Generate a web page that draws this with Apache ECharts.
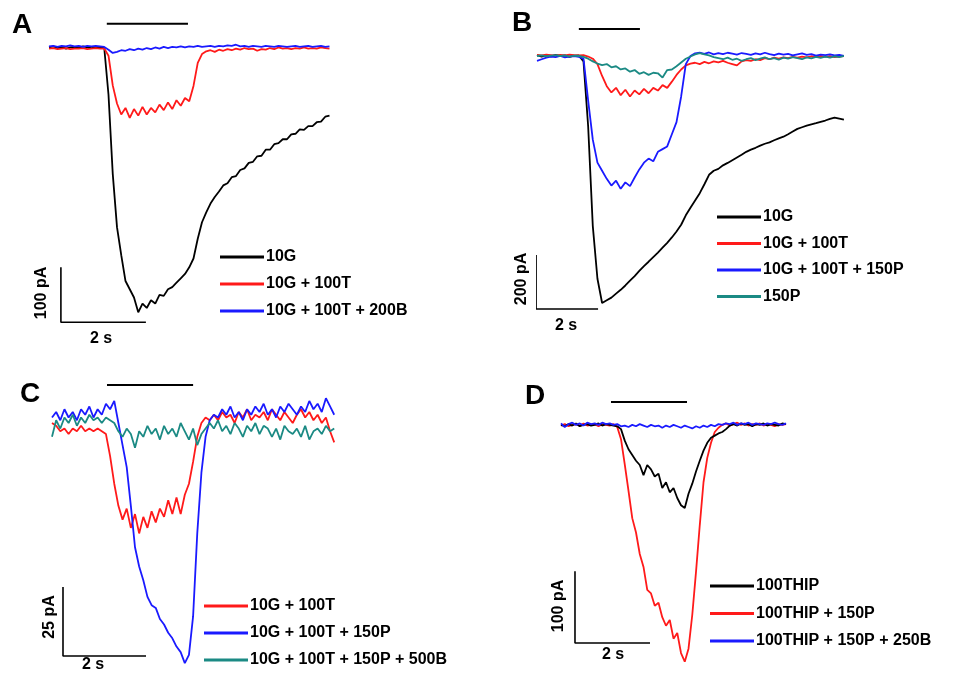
<!DOCTYPE html>
<html>
<head>
<meta charset="utf-8">
<script src="https://cdn.jsdelivr.net/npm/echarts@6/dist/echarts.min.js"></script>
<style>
  html, body { margin: 0; background: #fff; }
  #main { width: 973px; height: 679px; }
</style>
</head>
<body>
<div id="main"></div>
<script>
// sampling step (s) of the traces in each panel
var dtA = 0.1, dtB = 0.15, dtC = 0.1, dtD = 0.1;

// panel A (pA)
var a10G = [0,2,-1,1,-2,0,1,-1,2,0,-1,1,0,-1,
  -86,-230,-327,-378,-425,-440,-455,-482,-466,-474,-460,-466,-450,-452,-440,-436,
  -428,-420,-412,-400,-384,-348,-318,-300,-284,-272,-262,-251,-247,-236,-234,-223,
  -220,-210,-208,-198,-197,-186,-186,-176,-174,-167,-167,-158,-157,-149,-150,-143,
  -143,-136,-135,-126,-124];
var a10G100T = [-2,-1,-3,-2,-1,-3,-2,-2,-1,-3,-2,-1,-2,-2,
  -15,-69,-102,-122,-110,-128,-112,-124,-108,-122,-110,-118,-104,-114,-100,-112,
  -96,-106,-92,-98,-70,-28,-12,-7,-5,-8,-4,-6,-3,-5,-2,-4,-1,-3,-2,-6,-3,-4,-1,-3,
  0,-2,-1,-3,-1,-2,0,-2,-1,-2,0,-1,-2];
var a10G100T200B = [2,3,1,3,2,4,2,3,1,3,2,3,2,1,
  -4,-10,-8,-5,-6,-3,-5,-2,-4,-1,-3,0,-2,1,-1,1,0,2,0,2,1,3,1,2,3,1,3,2,4,3,
  5,2,3,1,3,2,1,3,2,1,3,2,1,2,3,1,2,3,1,2,3,1,2];

// panel B (pA)
var b10G = [3,-2,2,-1,4,0,2,-3,1,2,
  -20,-260,-630,-825,-915,-905,-895,-880,-866,-850,-832,-815,-796,-778,-762,-745,
  -728,-710,-692,-672,-650,-625,-590,-562,-535,-508,-475,-440,-425,-418,-405,-396,
  -386,-376,-366,-355,-347,-340,-332,-325,-320,-312,-305,-299,-290,-280,-270,-264,
  -258,-253,-249,-244,-239,-233,-228,-232,-236];
var b10G100T = [4,2,5,3,1,4,2,5,3,2,
  3,-2,-10,-30,-74,-112,-135,-118,-145,-125,-150,-128,-142,-122,-138,-118,-128,
  -108,-118,-95,-70,-50,-35,-28,-25,-30,-22,-27,-20,-24,-18,-25,-30,-35,-20,-15,
  -18,-12,-15,-8,-12,-6,-10,-5,-8,-3,-6,-2,-5,-1,-4,0,-3,-1,-4,-2,0];
var b10G100T150P = [-18,-12,-6,-2,-4,0,-5,-2,0,-3,
  -10,-165,-310,-395,-425,-455,-480,-462,-492,-468,-482,-450,-420,-395,-380,-390,
  -355,-345,-335,-290,-245,-150,-30,0,10,12,
  8,13,6,11,7,12,9,5,11,8,4,10,6,12,7,3,9,5,8,2,6,10,4,7,1,5,3,6,2,4,0];
var b150P = [0,2,-1,1,3,0,2,-2,1,0,
  -3,-10,-20,-28,-34,-30,-42,-38,-50,-46,-58,-52,-66,-60,-70,-62,-64,-80,-52,-50,
  -38,-24,-10,-2,6,11,
  6,2,-4,-8,-12,-6,-14,-10,-18,-12,-8,-15,-10,-5,-12,-8,-14,-6,-10,-4,-8,-12,-5,
  -9,-3,-7,-2,-6,-1,-4,0];

// panel C (pA)
var c10G100T = [0,-1,-3,-2,-4,-2,-3,-1,-3,-2,-3,-2,-3,-4,
  -12,-22,-30,-35,-31,-38,-33,-40,-34,-38,-32,-36,-31,-34,-28,-33,-27,-33,-26,-22,
  -14,-5,0,2,1,3,
  1,4,2,3,0,4,2,5,1,3,2,4,1,5,3,1,4,2,0,3,5,2,4,1,3,0,2,-3,-7];
var c10G100T150P = [2,4,1,5,2,4,1,5,3,6,2,5,3,7,5,8,
  0,-8,-16,-30,-45,-52,-57,-63,-66,-67,-71,-73,-76,-78,-81,-83,-87,-84,-70,-40,
  -18,-5,1,3,
  2,5,3,6,2,4,1,5,3,6,4,7,3,5,2,6,4,7,5,3,6,4,8,5,7,4,9,6,3];
var c500B = [-5,1,-2,2,0,3,-1,2,0,3,1,2,0,2,1,0,-3,-5,-2,-4,-9,-3,-5,-1,-4,-2,-6,
  -1,-4,-2,-5,0,-3,-6,-2,-8,-4,-2,0,-2,
  1,-3,-1,-4,0,-2,-5,-1,-3,0,-4,-1,-2,-5,-2,-6,-1,-3,-4,-2,-5,-1,-6,-3,-2,-4,-1,-3,-2];

// panel D (pA)
var d100THIP = [0,-2,1,-1,2,-2,0,1,-1,0,2,-1,1,0,-1,
  -2,-6,-22,-34,-42,-50,-56,-70,-56,-62,-72,-68,-88,-80,-94,-88,-102,-112,-116,
  -96,-82,-65,-50,-36,-25,-18,-15,-12,-10,-6,-1,
  1,-1,2,0,1,-2,1,0,2,-1,1,0,-1,2,1];
var d150P = [-1,1,-2,0,1,-1,2,-1,0,1,-2,1,0,-1,1,
  -3,-20,-55,-92,-130,-150,-180,-198,-230,-235,-252,-248,-268,-280,-272,-298,-290,
  -318,-330,-312,-265,-205,-140,-80,-46,-25,-10,-4,
  0,2,-1,1,3,0,2,-1,1,0,2,-1,1,0,-2,1,0,1];
var d250B = [2,-3,1,3,0,2,-1,3,1,2,0,3,1,2,0,1,-2,-1,-3,0,-2,1,-1,-3,0,-2,-1,-4,-1,
  -3,0,-2,-4,-1,-3,-5,-2,-4,-1,-3,0,-2,1,0,2,1,3,0,2,1,3,0,2,1,0,2,1,3,1,0,2];

// stimulus bars [start s, end s, level pA] and scale bars [t0, v0, 2 s, amplitude]
var stimA = [1.36, 3.27, 43],  scaleA = [0.28, -500, 2, 100];
var stimB = [1.35, 3.32, 100], scaleB = [-0.03, -937, 2, 200];
var stimC = [1.325, 3.40, 13.8], scaleC = [0.265, -84.4, 2, 25];
var stimD = [1.333, 3.36, 32], scaleD = [0.373, -304, 2, 100];

var BLACK = '#000000', RED = '#ff1a1a', BLUE = '#1a1aff', TEAL = '#1b8a84';
var FONT = 'Liberation Sans';

function trace(vals, dt) {
    return vals.map(function (v, i) { return [+(i * dt).toFixed(3), v]; });
}

var series = [];
function addTrace(p, name, vals, dt, color) {
    series.push({
        name: p + '|' + name, type: 'line', xAxisIndex: p, yAxisIndex: p,
        data: trace(vals, dt), showSymbol: false, symbol: 'none',
        lineStyle: { color: color, width: 1.8 }, itemStyle: { color: color },
        silent: true, animation: false
    });
}
function addBars(p, stim, sc) {
    series.push({
        type: 'line', xAxisIndex: p, yAxisIndex: p, silent: true, animation: false,
        data: [[stim[0], stim[2]], [stim[1], stim[2]]], symbol: 'none', clip: false,
        lineStyle: { color: '#000', width: 2 }
    });
    series.push({
        type: 'line', xAxisIndex: p, yAxisIndex: p, silent: true, animation: false,
        data: [[sc[0], sc[1] + sc[3]], [sc[0], sc[1]], [sc[0] + sc[2], sc[1]]],
        symbol: 'none', clip: false,
        lineStyle: { color: '#000', width: 1.6 }
    });
}

// draw order: later series on top
addTrace(0, '10G', a10G, dtA, BLACK);
addTrace(0, '10G + 100T', a10G100T, dtA, RED);
addTrace(0, '10G + 100T + 200B', a10G100T200B, dtA, BLUE);
addTrace(1, '10G', b10G, dtB, BLACK);
addTrace(1, '10G + 100T', b10G100T, dtB, RED);
addTrace(1, '10G + 100T + 150P', b10G100T150P, dtB, BLUE);
addTrace(1, '150P', b150P, dtB, TEAL);
addTrace(2, '10G + 100T', c10G100T, dtC, RED);
addTrace(2, '10G + 100T + 150P', c10G100T150P, dtC, BLUE);
addTrace(2, '10G + 100T + 150P + 500B', c500B, dtC, TEAL);
addTrace(3, '100THIP + 150P', d150P, dtD, RED);
addTrace(3, '100THIP', d100THIP, dtD, BLACK);
addTrace(3, '100THIP + 150P + 250B', d250B, dtD, BLUE);
addBars(0, stimA, scaleA);
addBars(1, stimB, scaleB);
addBars(2, stimC, scaleC);
addBars(3, stimD, scaleD);

var grids = [
    { left: 49, top: 20, width: 281, height: 305 },
    { left: 537, top: 20, width: 307, height: 300 },
    { left: 52, top: 375, width: 285, height: 300 },
    { left: 561, top: 380, width: 227, height: 300 }
];
var xr = [[0, 6.612], [0, 9.903], [0, 6.867], [0, 6.053]];
var yr = [[-505, 50], [-977.8, 133.3], [-91.3, 17.4], [-354.2, 62.5]];

function legend(p, names, left, top, gap) {
    return {
        orient: 'vertical', left: left, top: top, itemGap: gap, padding: 0,
        itemWidth: 44, itemHeight: 3, icon: 'rect', selectedMode: false,
        data: names.map(function (n) { return p + '|' + n; }),
        formatter: function (n) { return n.split('|')[1]; },
        textStyle: { fontFamily: FONT, fontWeight: 'bold', fontSize: 16, color: '#000', padding: [0, 0, 0, -3] }
    };
}

function txt(s, x, y, size, rot) {
    return {
        type: 'text', x: x, y: y, rotation: rot || 0, silent: true,
        style: { text: s, fontFamily: FONT, fontWeight: 'bold', fontSize: size,
                 fill: '#000', align: 'center', verticalAlign: 'middle' }
    };
}

var chart = echarts.init(document.getElementById('main'));
chart.setOption({
    backgroundColor: '#fff',
    animation: false,
    grid: grids,
    xAxis: xr.map(function (r, i) {
        return { type: 'value', gridIndex: i, min: r[0], max: r[1], show: false };
    }),
    yAxis: yr.map(function (r, i) {
        return { type: 'value', gridIndex: i, min: r[0], max: r[1], show: false };
    }),
    legend: [
        legend(0, ['10G', '10G + 100T', '10G + 100T + 200B'], 220, 249, 11),
        legend(1, ['10G', '10G + 100T', '10G + 100T + 150P', '150P'], 717, 209, 10.5),
        legend(2, ['10G + 100T', '10G + 100T + 150P', '10G + 100T + 150P + 500B'], 204, 598, 11),
        legend(3, ['100THIP', '100THIP + 150P', '100THIP + 150P + 250B'], 710, 578, 11.5)
    ],
    graphic: [
        txt('A', 22, 25, 28), txt('B', 522, 23, 28), txt('C', 30, 394, 28), txt('D', 535, 396, 28),
        txt('100 pA', 42, 293, 16, Math.PI / 2), txt('2 s', 101, 339, 16),
        txt('200 pA', 522, 279, 16, Math.PI / 2), txt('2 s', 566, 326, 16),
        txt('25 pA', 50, 617, 16, Math.PI / 2), txt('2 s', 93, 665, 16),
        txt('100 pA', 559, 606, 16, Math.PI / 2), txt('2 s', 613, 655, 16)
    ],
    series: series
});
</script>
</body>
</html>
